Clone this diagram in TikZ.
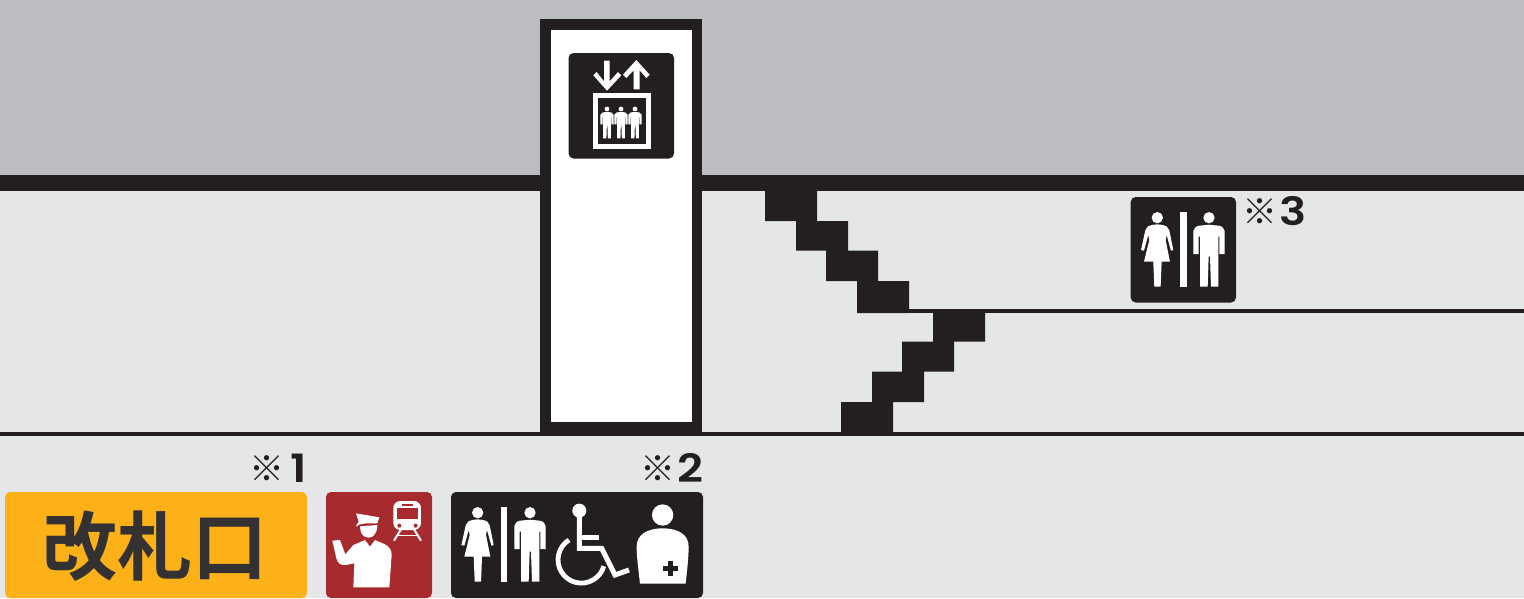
\documentclass[tikz,border=0pt]{standalone}
\usepackage{fontspec}
\newfontfamily\cjkf{Noto Sans CJK JP}[UprightFont=* Medium,BoldFont=* Bold]
\newfontfamily\digf{Poppins}[UprightFont=* SemiBold]
\definecolor{ink}{HTML}{231F20}
\definecolor{upper}{HTML}{BCBDC1}
\definecolor{floorc}{HTML}{E5E6E8}
\definecolor{gatec}{HTML}{FDB119}
\definecolor{redc}{HTML}{A62A2E}
\definecolor{gatetext}{HTML}{333132}
\tikzset{
  sign/.style={draw=none,rounded corners=5pt},
  refmark/.style={inner sep=0pt,text=ink,font=\cjkf\fontsize{35}{35}\selectfont},
  refdigit/.style={inner sep=0pt,text=ink,anchor=base,xscale=1.16,font=\digf\fontsize{39}{39}\selectfont},
  whiteline/.style={draw=white,line cap=butt,line join=miter},
}
\newcommand{\womanicon}[3]{%
  \begin{scope}[shift={(#1,#2)},scale=#3]
    \fill[white] (0,0) circle[radius=17];
    \fill[white] (0,20) .. controls (-12,21) and (-22,22) .. (-28,26) -- (-36,38)
      -- (-49,97) -- (-40,99) -- (-27,52) -- (-24,67) -- (-40,132) -- (-12,132)
      -- (-9,207) -- (10,207) -- (13,132) -- (38,132) -- (25,67) -- (28,52)
      -- (41,99) -- (48,97) -- (36,38) -- (28,26) .. controls (22,22) and (12,21) .. (0,20) -- cycle;
  \end{scope}}
\newcommand{\manicon}[3]{%
  \begin{scope}[shift={(#1,#2)},scale=#3]
    \fill[white] (0,0) circle[radius=17];
    \fill[white] (0,21) -- (-30,24) .. controls (-40,26) and (-45,32) .. (-47,40)
      -- (-47,109) -- (-31,109) -- (-31,57) -- (-27,57) -- (-27,207) -- (-4,207)
      -- (-1,117) -- (3,117) -- (6,207) -- (28,207) -- (28,57) -- (31,57)
      -- (31,109) -- (47,109) -- (47,40) .. controls (45,32) and (40,26) .. (30,24) -- cycle;
  \end{scope}}
\begin{document}
\begin{tikzpicture}[x=1pt,y=-1pt]
\useasboundingbox (0,0) rectangle (1524,598);
% grounds
\fill[floorc] (0,0) rectangle (1524,598);
\fill[upper] (0,0) rectangle (1524,175);
% floor lines
\fill[ink] (0,175) rectangle (1524,191);
\fill[ink] (909,309) rectangle (1524,313);
\fill[ink] (0,432) rectangle (1524,436);
% stairs
\fill[ink] (765,191) -- (817,191) -- (817,221) -- (848,221) -- (848,250.5) -- (878,250.5)
  -- (878,281) -- (909,281) -- (909,313) -- (857,313) -- (857,281) -- (826,281)
  -- (826,250.5) -- (796,250.5) -- (796,221) -- (765,221) -- cycle;
\fill[ink] (933,313) -- (985,313) -- (985,341.5) -- (954,341.5) -- (954,371.5) -- (924,371.5)
  -- (924,402) -- (893,402) -- (893,432) -- (841,432) -- (841,402) -- (872,402)
  -- (872,371.5) -- (902,371.5) -- (902,341.5) -- (933,341.5) -- cycle;
% elevator shaft
\fill[ink] (540,19) rectangle (702,432);
\fill[white] (551,30) rectangle (692,422);
% elevator sign
\fill[ink,sign] (568.5,53) rectangle (674,158.5);
\begin{scope}[shift={(560,40)},scale=0.3333]
  \fill[white] (132,62) -- (149,62) -- (149,124) -- (174,96) -- (184,106) -- (141,152)
    -- (100,106) -- (110,96) -- (132,124) -- cycle;
  \fill[white] (221,148) -- (239,148) -- (239,91) -- (259,114) -- (269,104) -- (229,60)
    -- (189,104) -- (199,114) -- (221,91) -- cycle;
\end{scope}
\draw[whiteline,line width=5.3pt] (595.7,95.7) rectangle (648.3,146.3);
\manicon{607}{109}{0.142}
\manicon{621}{109}{0.142}
\manicon{635}{109}{0.142}
% toilet sign on platform
\fill[ink,sign] (1130.7,197) rectangle (1236,302.5);
\womanicon{1157.3}{217.7}{0.3333}
\fill[white] (1180.3,212) rectangle (1186.7,286.7);
\manicon{1209}{217.7}{0.3333}
% gate sign
\fill[gatec,sign] (5,492) rectangle (307,598);
\node[inner sep=0pt,text=gatetext,font=\cjkf\bfseries\fontsize{75}{75}\selectfont] (gate) at (155,546) {改札口};
% staff sign
\fill[redc,sign] (326,492) rectangle (432,598);
\begin{scope}[shift={(320,485)},scale=0.3333]
  \fill[white] (108,85) -- (178,97) -- (172,115) -- (138,115) -- (120,118) -- (107,125) -- (116,110) -- cycle;
  \fill[white] (120,124) -- (172,120) .. controls (172,145) and (160,158) .. (146,158) .. controls (130,158) and (120,145) .. (120,124) -- cycle;
  \fill[white] (37,167) -- (60,165) -- (76,208) -- (100,180) -- (135,165) -- (150,185) -- (165,165)
    -- (195,178) .. controls (208,185) and (215,195) .. (215,210) -- (208,307) -- (100,307) -- (103,235)
    -- (78,240) .. controls (60,242) and (52,232) .. (49,220) -- cycle;
  \fill[white,rounded corners=7pt] (220,48) rectangle (303,135);
  \fill[redc] (230,68) rectangle (293,102);
  \fill[redc] (246,57) rectangle (279,63);
  \fill[redc] (238,122) circle[radius=6];
  \fill[redc] (287,122) circle[radius=6];
  \draw[white,line width=2pt] (243,133) -- (222,167);
  \draw[white,line width=2pt] (282,133) -- (303,167);
  \draw[white,line width=1.2pt] (232,152) -- (293,152);
\end{scope}
% combined sign
\fill[ink,sign] (451,492) rectangle (703,598);
\womanicon{477.7}{512.7}{0.3333}
\fill[white] (501.3,507) rectangle (507.3,582);
\manicon{530}{512.7}{0.3333}
\begin{scope}[shift={(445,445)},scale=0.3333]
  \fill[white] (403,197) circle[radius=21];
  \draw[white,line width=5pt,line join=miter] (403,205) -- (403,310) -- (470,310) -- (510,390) -- (552,375);
  \draw[white,line width=5pt] (403,278) -- (462,278);
  \draw[white,line width=4.8pt] (372,285) arc[start angle=238,end angle=16,radius=70];
  \fill[white] (653,210) circle[radius=32];
  \fill[white] (585,416) .. controls (580,370) and (575,335) .. (575,305)
    .. controls (575,270) and (605,250) .. (653,250)
    .. controls (702,250) and (731,270) .. (731,305)
    .. controls (731,335) and (727,370) .. (722,416) -- cycle;
  \fill[ink] (670,348) rectangle (684,394);
  \fill[ink] (654,364) rectangle (700,378);
\end{scope}
% reference marks
\node[refmark] (m1) at (267,468.5) {※};
\node[refdigit] (d1) at (299,482.5) {1};
\node[refmark] (m2) at (657.5,468.5) {※};
\node[refdigit] (d2) at (690.5,482.5) {2};
\node[refmark] (m3) at (1259.5,212) {※};
\node[refdigit] (d3) at (1293,225.5) {3};
\end{tikzpicture}
\end{document}
